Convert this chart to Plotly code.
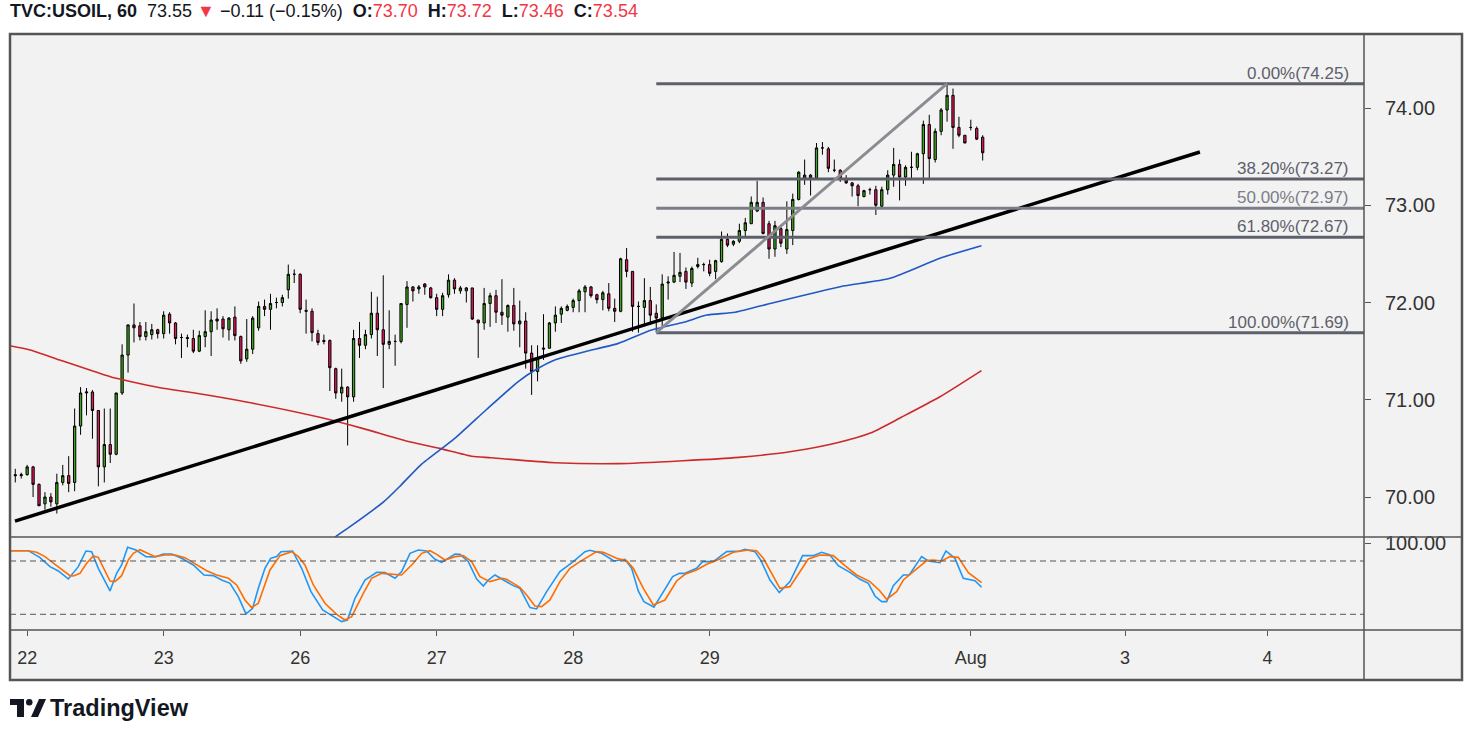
import plotly.graph_objects as go

# hourly candles (oldest first)
opens = [70.23, 70.22, 70.23, 70.31, 70.13, 69.93, 70.00, 69.93, 70.15, 70.22,
         70.15, 70.73, 71.07, 71.08, 70.89, 70.31, 70.54, 70.44, 71.07, 71.46,
         71.77, 71.76, 71.65, 71.67, 71.72, 71.68, 71.88, 71.79, 71.64, 71.64,
         71.63, 71.50, 71.65, 71.70, 71.83, 71.83, 71.72, 71.85, 71.65, 71.42,
         71.52, 71.74, 71.96, 71.93, 72.00, 72.00, 72.13, 72.29, 72.29, 71.92,
         71.91, 71.68, 71.61, 71.61, 71.32, 71.07, 71.13, 71.03, 71.63, 71.56,
         71.67, 71.89, 71.72, 71.57, 71.60, 71.60, 71.98, 72.16, 72.14, 72.19,
         72.15, 72.05, 71.93, 72.08, 72.23, 72.12, 72.12, 72.15, 71.82, 71.79,
         71.99, 72.07, 71.90, 71.85, 71.97, 71.78, 71.81, 71.48, 71.29, 71.52,
         71.53, 71.79, 71.88, 71.92, 71.95, 72.02, 72.11, 72.16, 72.08, 72.03,
         72.09, 71.94, 71.91, 72.44, 72.32, 71.96, 71.95, 72.02, 71.89, 71.84,
         72.20, 72.21, 72.27, 72.32, 72.20, 72.37, 72.39, 72.39, 72.32, 72.42,
         72.65, 72.60, 72.63, 72.74, 72.81, 72.94, 73.03, 72.81, 72.55, 72.76,
         72.55, 72.74, 73.06, 73.28, 73.31, 73.28, 73.59, 73.58, 73.36, 73.36,
         73.27, 73.23, 73.20, 73.09, 73.16, 73.16, 72.99, 73.16, 73.31, 73.42,
         73.29, 73.39, 73.39, 73.53, 73.83, 73.47, 73.76, 73.98, 74.13, 73.80,
         73.72, 73.80, 73.79, 73.70]
highs = [70.29, 70.25, 70.33, 70.32, 70.14, 70.05, 70.04, 70.24, 70.33, 70.42,
         70.91, 71.13, 71.12, 71.10, 70.89, 70.91, 70.91, 71.07, 71.57, 71.77,
         71.99, 71.80, 71.80, 71.78, 71.73, 71.91, 71.90, 71.80, 71.68, 71.67,
         71.72, 71.71, 71.92, 71.91, 71.94, 71.86, 71.85, 71.96, 71.66, 71.83,
         71.86, 72.01, 72.03, 72.09, 72.05, 72.08, 72.39, 72.34, 72.30, 72.03,
         71.94, 71.72, 71.67, 71.62, 71.33, 71.32, 71.14, 71.72, 71.80, 71.72,
         72.11, 72.06, 72.28, 71.92, 71.67, 71.99, 72.22, 72.17, 72.18, 72.20,
         72.16, 72.09, 72.10, 72.29, 72.25, 72.17, 72.16, 72.15, 71.82, 72.15,
         72.10, 72.13, 72.24, 71.98, 72.15, 72.02, 71.90, 71.56, 71.56, 71.88,
         71.80, 71.96, 71.96, 71.98, 72.04, 72.14, 72.18, 72.17, 72.09, 72.12,
         72.20, 72.04, 72.46, 72.56, 72.32, 72.01, 72.25, 72.16, 71.98, 72.29,
         72.27, 72.52, 72.51, 72.36, 72.37, 72.46, 72.41, 72.44, 72.44, 72.73,
         72.71, 72.64, 72.81, 72.87, 73.09, 73.25, 73.08, 72.84, 72.84, 72.78,
         73.04, 73.12, 73.35, 73.47, 73.32, 73.64, 73.65, 73.60, 73.47, 73.37,
         73.31, 73.24, 73.22, 73.16, 73.18, 73.20, 73.19, 73.36, 73.59, 73.47,
         73.41, 73.55, 73.54, 73.87, 73.93, 73.79, 74.00, 74.25, 74.20, 73.91,
         73.72, 73.88, 73.81, 73.72]
lows = [70.15, 70.19, 70.22, 70.00, 69.91, 69.87, 69.90, 69.83, 70.12, 70.05,
        70.06, 70.64, 70.84, 70.60, 70.11, 70.15, 70.35, 70.43, 71.05, 71.28,
        71.59, 71.61, 71.61, 71.62, 71.63, 71.63, 71.68, 71.57, 71.43, 71.54,
        71.48, 71.49, 71.54, 71.45, 71.72, 71.64, 71.61, 71.61, 71.37, 71.39,
        71.47, 71.71, 71.86, 71.72, 71.94, 71.96, 72.04, 72.20, 71.89, 71.68,
        71.60, 71.56, 71.57, 71.09, 71.01, 70.98, 70.53, 70.98, 71.43, 71.52,
        71.63, 71.45, 71.12, 71.52, 71.35, 71.58, 71.74, 72.01, 72.09, 72.08,
        72.04, 71.86, 71.86, 72.05, 72.09, 72.09, 72.00, 71.82, 71.43, 71.72,
        71.75, 71.79, 71.77, 71.70, 71.71, 71.54, 71.32, 71.05, 71.19, 71.41,
        71.53, 71.70, 71.79, 71.91, 71.90, 71.90, 71.90, 72.05, 71.99, 71.92,
        71.91, 71.80, 71.90, 72.26, 71.70, 71.69, 71.77, 71.77, 71.69, 71.73,
        72.03, 72.20, 72.21, 72.14, 72.16, 72.35, 72.32, 72.27, 72.24, 72.41,
        72.57, 72.58, 72.61, 72.67, 72.81, 72.93, 72.70, 72.45, 72.47, 72.57,
        72.50, 72.59, 73.05, 73.21, 73.10, 73.27, 73.52, 73.34, 73.34, 73.24,
        73.22, 73.09, 72.99, 73.08, 73.11, 72.90, 72.97, 73.11, 73.19, 73.05,
        73.20, 73.28, 73.36, 73.22, 73.28, 73.44, 73.72, 73.86, 73.58, 73.70,
        73.64, 73.77, 73.67, 73.46]
closes = [70.22, 70.23, 70.31, 70.13, 69.91, 70.00, 69.95, 70.15, 70.22, 70.14,
          70.73, 71.07, 71.08, 70.89, 70.31, 70.54, 70.44, 71.07, 71.46, 71.77,
          71.74, 71.65, 71.70, 71.72, 71.68, 71.87, 71.79, 71.63, 71.64, 71.63,
          71.50, 71.66, 71.70, 71.82, 71.81, 71.73, 71.84, 71.66, 71.40, 71.52,
          71.84, 71.96, 71.93, 71.99, 72.00, 72.05, 72.29, 72.29, 71.93, 71.91,
          71.69, 71.59, 71.60, 71.33, 71.07, 71.13, 71.03, 71.63, 71.56, 71.67,
          71.89, 71.72, 71.57, 71.60, 71.60, 71.99, 72.16, 72.12, 72.16, 72.16,
          72.05, 71.93, 72.07, 72.23, 72.14, 72.15, 72.15, 71.83, 71.79, 71.99,
          72.07, 71.90, 71.87, 71.97, 71.78, 71.81, 71.48, 71.29, 71.43, 71.53,
          71.79, 71.87, 71.94, 71.96, 72.02, 72.12, 72.16, 72.07, 72.03, 72.10,
          71.94, 71.91, 72.45, 72.32, 71.96, 71.96, 72.02, 71.87, 71.84, 72.19,
          72.21, 72.28, 72.31, 72.21, 72.35, 72.39, 72.39, 72.30, 72.43, 72.65,
          72.59, 72.63, 72.74, 72.82, 73.03, 73.03, 72.71, 72.55, 72.79, 72.61,
          72.75, 73.06, 73.34, 73.31, 73.28, 73.59, 73.59, 73.38, 73.36, 73.27,
          73.23, 73.20, 73.10, 73.15, 73.16, 73.00, 73.16, 73.31, 73.42, 73.29,
          73.39, 73.39, 73.53, 73.83, 73.48, 73.76, 73.98, 74.13, 73.80, 73.72,
          73.64, 73.80, 73.68, 73.54]

day_ticks = [2, 25, 48, 71, 94, 117, 161, 187, 211]
day_labels = ["22", "23", "26", "27", "28", "29", "Aug", "3", "4"]
price_ticks = [70, 71, 72, 73, 74]

# moving averages (bar index, price)
ma_slow_x = [-0.9, 2.5, 7.5, 16, 18.8, 24.4, 30, 38.7, 51.3, 58.5, 65.7, 71.5,
             76.9, 80.1, 90.9, 101.7, 112.5, 121.9, 130.5, 138.5, 144.2, 149.3,
             155.8, 162.8]
ma_slow_y = [71.556, 71.512, 71.409, 71.237, 71.196, 71.124, 71.072, 70.980,
             70.82, 70.706, 70.579, 70.50, 70.42, 70.404, 70.353, 70.343,
             70.373, 70.408, 70.466, 70.559, 70.661, 70.82, 71.031, 71.30]
ma_fast_x = [53.8, 56.4, 62.1, 65.0, 68.3, 74.0, 79.4, 84.8, 87.6, 90.9, 96.0,
             101.6, 107.2, 112.8, 116.5, 121.3, 127.7, 139.0, 147.4, 155.8, 162.8]
ma_fast_y = [69.586, 69.695, 69.952, 70.123, 70.329, 70.60, 70.90, 71.19,
             71.306, 71.41, 71.494, 71.58, 71.717, 71.80, 71.871, 71.90,
             71.998, 72.163, 72.249, 72.455, 72.584]

# trend line and fibonacci retracement
trend_x = [-0.05, 199.6]
trend_y = [69.753, 73.548]
fib_pct = [0.0, 38.2, 50.0, 61.8, 100.0]
fib_price = [74.25, 73.27, 72.97, 72.67, 71.69]
fib_color = ["#5d606b", "#5d606b", "#7b7e88", "#5d606b", "#5d606b"]
swing_low_i, swing_high_i = 108, 157

# stochastic RSI (bar index, value)
k_x = [-0.9, 2.2, 4.16, 5.85, 7.25, 8.94, 10.62, 11.91, 12.87, 13.99, 15.96,
       17.08, 17.92, 18.93, 20.34, 22.02, 23.54, 24.94, 26.35, 28.03, 30.0,
       31.8, 33.37, 34.77, 36.18, 37.58, 38.87, 39.99, 40.95, 42.07, 43.03,
       44.04, 44.77, 46.73, 48.25, 49.82, 51.79, 53.59, 54.99, 55.95, 57.24,
       58.92, 60.89, 62.29, 63.98, 65.1, 66.51, 67.91, 69.31, 70.72, 71.84,
       74.09, 74.93, 76.33, 77.74, 78.86, 79.7, 80.82, 82.51, 83.91, 85.03,
       86.16, 86.72, 87.84, 89.53, 91.77, 94.02, 95.99, 96.83, 98.8, 100.87,
       102.73, 103.85, 104.97, 105.93, 107.61, 109.19, 110.76, 111.88, 112.84,
       114.8, 115.81, 117.61, 119.86, 122.1, 122.95, 124.63, 125.59, 127.16,
       128.73, 130.53, 131.65, 132.66, 134.46, 135.86, 137.27, 138.67, 140.64,
       142.33, 143.73, 144.85, 145.97, 146.82, 147.94, 149.63, 150.63, 152.71,
       153.84, 155.8, 156.81, 158.33, 159.73, 161.7, 162.82]
k_y = [91.6, 91.6, 83.75, 73.6, 68.75, 59.75, 73.6, 91.25, 90.5, 71.75, 46.25,
       66.1, 75.5, 95.4, 92.4, 84.9, 84.5, 87.9, 87.9, 83.0, 75.5, 64.25, 63.5,
       58.6, 54.9, 39.9, 20.4, 26.75, 49.25, 71.75, 83.0, 84.9, 90.5, 91.25,
       71.75, 45.5, 24.9, 17.4, 11.75, 13.6, 38.0, 58.6, 67.25, 66.9, 60.5, 68.0,
       88.6, 92.4, 91.25, 81.9, 78.5, 87.9, 87.5, 79.25, 59.75, 51.9, 58.6,
       64.25, 57.9, 52.25, 49.25, 34.25, 27.5, 26.0, 45.5, 68.0, 79.25, 90.5,
       92.0, 88.6, 80.0, 81.9, 71.75, 46.25, 34.25, 27.9, 45.5, 62.4, 66.1, 66.1,
       71.75, 79.25, 79.25, 90.5, 91.25, 93.1, 90.5, 81.1, 58.6, 44.4, 56.75,
       71.75, 86.0, 86.0, 89.75, 86.75, 74.75, 67.25, 59.4, 54.9, 40.6, 34.25,
       34.25, 52.25, 64.25, 64.25, 84.9, 80.0, 78.1, 91.25, 83.0, 60.5, 57.9,
       50.4]
d_x = [-0.9, 2.2, 3.6, 5.0, 6.97, 9.22, 9.78, 10.9, 12.02, 13.15, 13.99, 14.94,
       15.96, 16.8, 17.92, 19.05, 19.89, 21.01, 22.42, 23.54, 25.22, 26.91,
       28.59, 30.56, 32.24, 33.93, 35.9, 37.3, 38.7, 39.82, 40.95, 42.92, 44.6,
       46.57, 47.69, 48.81, 50.22, 52.18, 54.15, 55.55, 56.68, 58.64, 60.04,
       61.73, 63.13, 65.1, 67.07, 68.47, 69.87, 71.0, 72.4, 74.09, 75.49, 76.89,
       78.3, 79.98, 81.95, 82.79, 85.03, 86.16, 87.56, 88.69, 90.09, 91.77,
       93.46, 95.14, 97.95, 99.08, 101.32, 103.01, 104.13, 105.82, 107.5,
       109.47, 111.43, 112.84, 114.8, 116.49, 118.73, 120.98, 123.51, 124.91,
       126.04, 127.44, 128.84, 130.53, 132.21, 133.62, 135.58, 137.83, 139.79,
       141.76, 144.01, 145.69, 146.82, 148.5, 149.63, 151.59, 153.56, 154.68,
       156.08, 157.49, 158.89, 160.58, 162.82]
d_y = [91.6, 91.6, 89.75, 84.9, 74.75, 63.5, 63.1, 66.1, 77.4, 85.6, 84.1, 71.75,
       57.5, 56.75, 63.5, 81.1, 88.6, 92.75, 88.6, 84.9, 86.75, 86.75, 83.75,
       76.25, 69.1, 64.25, 60.5, 53.0, 36.1, 27.5, 32.4, 69.9, 86.0, 90.5, 84.9,
       75.5, 53.0, 32.4, 20.0, 13.6, 17.4, 43.6, 60.5, 66.1, 65.0, 64.25, 77.4,
       88.6, 91.6, 87.5, 81.1, 84.9, 86.0, 79.25, 62.4, 56.75, 60.5, 59.4, 50.4,
       41.75, 29.4, 28.6, 36.1, 56.75, 71.75, 79.25, 90.5, 89.75, 83.0, 80.4,
       71.75, 49.25, 30.5, 36.1, 57.5, 65.0, 69.9, 76.25, 82.25, 89.75, 92.4,
       91.6, 83.0, 66.1, 49.25, 51.1, 68.0, 82.25, 86.75, 86.0, 74.75, 64.25,
       56.75, 46.25, 36.9, 45.5, 58.6, 69.9, 80.4, 81.1, 80.0, 84.9, 84.1, 66.9,
       55.6]
stoch_levels = [80, 20]

# page geometry (pixels) -> paper fractions
L, R, T, B = 10, 1462, 34, 680
def px(x):
    return (x - L) / (R - L)
def py(y):
    return (B - y) / (B - T)

X_END = px(1364)
PRICE_BOTTOM = py(537)
STOCH_BOTTOM = py(630)

FONT = "Liberation Sans"
BG = "#f2f2f2"
FRAME = "#555555"

x = list(range(len(opens)))

fig = go.Figure()

fig.add_trace(go.Candlestick(
    x=x, open=opens, high=highs, low=lows, close=closes,
    increasing=dict(line=dict(color="#000000", width=1), fillcolor="#3fa81c"),
    decreasing=dict(line=dict(color="#000000", width=1), fillcolor="#e8175d"),
    whiskerwidth=0, showlegend=False, xaxis="x", yaxis="y"))

fig.add_trace(go.Scatter(x=ma_slow_x, y=ma_slow_y, mode="lines",
                         line=dict(color="#cc2a2a", width=1.6, shape="spline", smoothing=0.6),
                         showlegend=False, xaxis="x", yaxis="y"))
fig.add_trace(go.Scatter(x=ma_fast_x, y=ma_fast_y, mode="lines",
                         line=dict(color="#2158c4", width=1.6, shape="spline", smoothing=0.6),
                         showlegend=False, xaxis="x", yaxis="y"))

fig.add_trace(go.Scatter(x=trend_x, y=trend_y, mode="lines",
                         line=dict(color="#000000", width=3.5),
                         showlegend=False, xaxis="x", yaxis="y"))

for pct, price, col in zip(fib_pct, fib_price, fib_color):
    fig.add_trace(go.Scatter(x=[swing_low_i, 260], y=[price, price], mode="lines",
                             line=dict(color=col, width=3),
                             showlegend=False, xaxis="x", yaxis="y"))
    fig.add_annotation(x=225.05, y=price, xref="x", yref="y", xanchor="right",
                       yanchor="bottom", yshift=-1, showarrow=False,
                       text=f"{pct:.2f}%({price:.2f})",
                       font=dict(family=FONT, size=17, color=col))

fig.add_trace(go.Scatter(x=[swing_low_i, swing_high_i], y=[fib_price[-1], fib_price[0]],
                         mode="lines", line=dict(color="#8b8b91", width=3),
                         showlegend=False, xaxis="x", yaxis="y"))

fig.add_trace(go.Scatter(x=k_x, y=k_y, mode="lines",
                         line=dict(color="#2196f3", width=1.6),
                         showlegend=False, xaxis="x2", yaxis="y2"))
fig.add_trace(go.Scatter(x=d_x, y=d_y, mode="lines",
                         line=dict(color="#ff6d00", width=1.6),
                         showlegend=False, xaxis="x2", yaxis="y2"))

shapes = [
    dict(type="rect", xref="paper", yref="paper", x0=0, x1=1, y0=0, y1=1,
         fillcolor=BG, line=dict(width=0), layer="below"),
    dict(type="line", xref="paper", yref="paper", x0=X_END, x1=X_END, y0=0, y1=1,
         line=dict(color=FRAME, width=1.5)),
    dict(type="line", xref="paper", yref="paper", x0=0, x1=1,
         y0=PRICE_BOTTOM, y1=PRICE_BOTTOM, line=dict(color=FRAME, width=1.5)),
    dict(type="line", xref="paper", yref="paper", x0=0, x1=1,
         y0=STOCH_BOTTOM, y1=STOCH_BOTTOM, line=dict(color=FRAME, width=1.5)),
    dict(type="rect", xref="paper", yref="paper", x0=0, x1=1, y0=0, y1=1,
         line=dict(color=FRAME, width=2.5)),
]
for lvl in stoch_levels:
    shapes.append(dict(type="line", xref="paper", yref="y2", x0=0, x1=X_END,
                       y0=lvl, y1=lvl, line=dict(color="#555555", width=1, dash="6px,4px")))

# TradingView logo mark
INK = "#131722"
shapes += [
    dict(type="rect", xref="paper", yref="paper", x0=px(10), x1=px(24),
         y0=py(705), y1=py(699), fillcolor=INK, line=dict(width=0)),
    dict(type="rect", xref="paper", yref="paper", x0=px(17), x1=px(24),
         y0=py(717), y1=py(699), fillcolor=INK, line=dict(width=0)),
    dict(type="circle", xref="paper", yref="paper", x0=px(26), x1=px(32.5),
         y0=py(705.5), y1=py(699), fillcolor=INK, line=dict(width=0)),
    dict(type="path", xref="paper", yref="paper",
         path=(f"M {px(31)},{py(717)} L {px(39)},{py(699)} L {px(46)},{py(699)} "
               f"L {px(38)},{py(717)} Z"),
         fillcolor=INK, line=dict(width=0)),
]

red = "#f23645"
header = ("<b>TVC:USOIL, 60</b>  73.55 "
          f"<span style='color:{red}'>▼</span> −0.11 (−0.15%)  "
          f"<b>O:</b><span style='color:{red}'>73.70</span>  "
          f"<b>H:</b><span style='color:{red}'>73.72</span>  "
          f"<b>L:</b><span style='color:{red}'>73.46</span>  "
          f"<b>C:</b><span style='color:{red}'>73.54</span>")
fig.add_annotation(x=px(8), y=py(11), xref="paper", yref="paper", xanchor="left",
                   yanchor="middle", showarrow=False, text=header,
                   font=dict(family=FONT, size=18, color=INK))
fig.add_annotation(x=px(48), y=py(708), xref="paper", yref="paper", xanchor="left",
                   yanchor="middle", showarrow=False, text="<b>TradingView</b>",
                   font=dict(family=FONT, size=23.5, color=INK))

x_font = dict(family=FONT, size=18, color="#333333")
y_font = dict(family=FONT, size=20, color="#333333")
fig.update_layout(
    width=1471, height=735,
    margin=dict(l=L, r=1471 - R, t=T, b=735 - B),
    paper_bgcolor="#ffffff", plot_bgcolor=BG,
    boxgap=0.45,
    showlegend=False,
    shapes=shapes,
    xaxis=dict(domain=[0, X_END], range=[-0.89, 227.25], anchor="y",
               showticklabels=False, showgrid=False, zeroline=False,
               rangeslider=dict(visible=False), fixedrange=True),
    yaxis=dict(domain=[PRICE_BOTTOM, 1], range=[69.589, 74.761], side="right",
               anchor="x", tickvals=price_ticks, tickformat=".2f",
               ticks="outside", ticklen=6, tickcolor=FRAME, tickfont=y_font,
               showgrid=False, zeroline=False, ticklabelstandoff=10),
    xaxis2=dict(domain=[0, X_END], range=[-0.89, 227.25], anchor="y2",
                matches="x", tickvals=day_ticks, ticktext=day_labels,
                ticks="outside", ticklen=5, tickcolor=FRAME, tickfont=x_font,
                showgrid=False, zeroline=False, ticklabelstandoff=6),
    yaxis2=dict(domain=[STOCH_BOTTOM, PRICE_BOTTOM], range=[2.32, 107.0],
                side="right", anchor="x2", tickvals=[100], ticktext=["100.00"],
                ticks="outside", ticklen=6, tickcolor=FRAME, tickfont=y_font,
                showgrid=False, zeroline=False, ticklabelstandoff=10),
)

# the page's default body margin would shift the chart by 8px
fig.write_html("out.html", config={"displayModeBar": False},
               post_script="document.body.style.margin='0';")
